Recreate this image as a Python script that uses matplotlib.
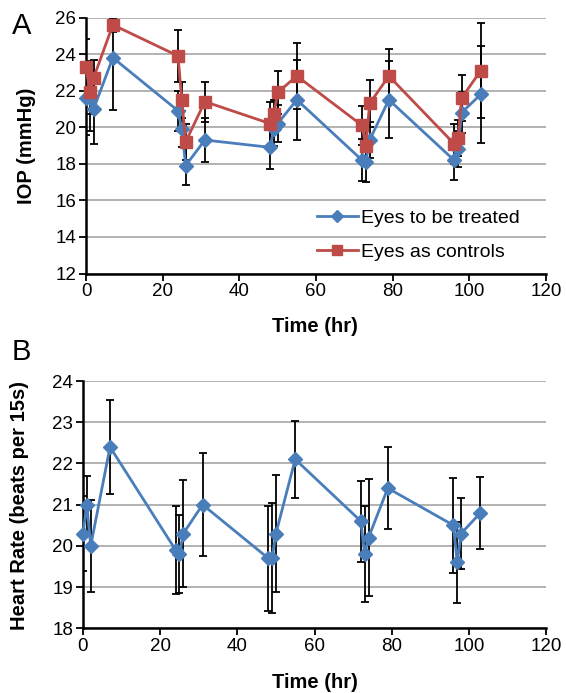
import matplotlib
matplotlib.use("Agg")
import matplotlib.pyplot as plt

plt.rcParams['font.family'] = ['Liberation Sans', 'DejaVu Sans']

# ---- Panel A data (IOP) ----
time_a = [0, 1, 2, 7, 24, 25, 26, 31, 48, 49, 50, 55, 72, 73, 74, 79, 96, 97, 98, 103]
treated_iop = [21.6, 21.6, 21.0, 23.8, 20.9, 19.9, 17.9, 19.3, 18.9, 19.9, 20.2, 21.5,
               18.2, 18.1, 19.3, 21.5, 18.2, 18.8, 20.8, 21.8]
treated_err = [2.0, 1.8, 1.9, 2.85, 1.1, 1.0, 1.05, 1.2, 1.2, 0.9, 1.0, 2.2,
               1.15, 1.1, 1.0, 2.1, 1.1, 1.0, 1.1, 2.65]
control_iop = [23.3, 21.9, 22.7, 25.6, 23.9, 21.5, 19.2, 21.4, 20.2, 20.7, 21.9, 22.8,
               20.1, 19.0, 21.3, 22.8, 19.1, 19.4, 21.6, 23.1]
control_err = [1.5, 1.2, 1.0, 0.4, 1.4, 1.0, 1.0, 1.1, 1.2, 0.8, 1.15, 1.8,
               1.05, 1.0, 1.3, 1.5, 1.1, 1.0, 1.25, 2.6]

# ---- Panel B data (heart rate) ----
time_b = [0, 1, 2, 7, 24, 25, 26, 31, 48, 49, 50, 55, 72, 73, 74, 79, 96, 97, 98, 103]
heart_rate = [20.3, 21.0, 20.0, 22.4, 19.9, 19.8, 20.3, 21.0, 19.7, 19.7, 20.3, 22.1,
              20.6, 19.8, 20.2, 21.4, 20.5, 19.6, 20.3, 20.8]
heart_err = [0.9, 0.7, 1.12, 1.14, 1.07, 0.95, 1.3, 1.25, 1.27, 1.33, 1.41, 0.94,
             0.98, 1.17, 1.42, 1.0, 1.15, 0.98, 0.86, 0.87]

xticks = [0, 20, 40, 60, 80, 100, 120]
yticks_a = [12, 14, 16, 18, 20, 22, 24, 26]
yticks_b = [18, 19, 20, 21, 22, 23, 24]

BLUE = '#4A7EBB'
RED = '#BE4B48'
GRID = '#A6A6A6'

W, H = 566, 693
fig = plt.figure(figsize=(W / 100, H / 100), dpi=100)

def px_axes(l, t, r, b):
    return fig.add_axes([l / W, 1 - b / H, (r - l) / W, (b - t) / H])

axA = px_axes(86, 17.5, 546, 273.5)
axB = px_axes(83, 381, 546, 628.3)

def style(ax, yt, ylim):
    ax.set_xlim(0, 120)
    ax.set_ylim(*ylim)
    ax.set_xticks(xticks)
    ax.set_yticks(yt)
    ax.yaxis.grid(True, color=GRID, linewidth=1.2)
    ax.set_axisbelow(True)
    for s in ['top', 'right']:
        ax.spines[s].set_visible(False)
    for s in ['left', 'bottom']:
        ax.spines[s].set_linewidth(1.8)
        ax.spines[s].set_color('black')
    ax.tick_params(axis='both', direction='out', length=5, width=1.3,
                   labelsize=13.5, colors='black', pad=2)

style(axA, yticks_a, (12, 26))
style(axB, yticks_b, (18, 24))

eb_kw = dict(ecolor='black', elinewidth=1.3, capsize=3, capthick=1.3)

axA.errorbar(time_a, control_iop, yerr=control_err, fmt='none', zorder=2, **eb_kw)
axA.errorbar(time_a, treated_iop, yerr=treated_err, fmt='none', zorder=2, **eb_kw)
axA.plot(time_a, treated_iop, color=BLUE, linewidth=2, marker='D', markersize=7,
         markeredgecolor=BLUE, label='Eyes to be treated', zorder=3, clip_on=False)
axA.plot(time_a, control_iop, color=RED, linewidth=2, marker='s', markersize=8.5,
         markeredgecolor=RED, label='Eyes as controls', zorder=4, clip_on=False)
axA.legend(loc='center left', bbox_to_anchor=(317 / W, 1 - 235 / H),
           bbox_transform=fig.transFigure, frameon=False, borderpad=0, borderaxespad=0,
           fontsize=14, handlelength=2.1, handletextpad=0.15, labelspacing=0.85,
           markerscale=0.85)

axB.errorbar(time_b, heart_rate, yerr=heart_err, fmt='none', zorder=2, **eb_kw)
axB.plot(time_b, heart_rate, color=BLUE, linewidth=2, marker='D', markersize=7,
         markeredgecolor=BLUE, zorder=3, clip_on=False)

lab_kw = dict(fontsize=14.5, fontweight='bold', ha='center', va='center')
fig.text(26 / W, 1 - 146 / H, 'IOP (mmHg)', rotation=90, **lab_kw)
fig.text(20 / W, 1 - 505 / H, 'Heart Rate (beats per 15s)', rotation=90, **lab_kw)
fig.text(315 / W, 1 - 326 / H, 'Time (hr)', **lab_kw)
fig.text(315 / W, 1 - 682 / H, 'Time (hr)', **lab_kw)

fig.text(22 / W, 1 - 26 / H, 'A', fontsize=21, ha='center', va='center')
fig.text(21 / W, 1 - 352 / H, 'B', fontsize=21, ha='center', va='center')

fig.savefig('out.png', dpi=100)
